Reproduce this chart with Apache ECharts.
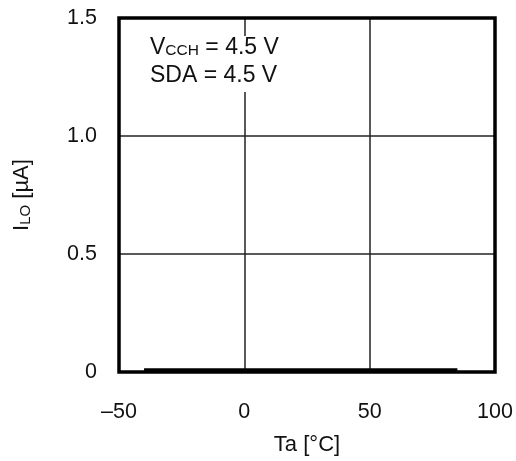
<!DOCTYPE html>
<html>
<head>
<meta charset="utf-8">
<script src="https://cdn.jsdelivr.net/npm/echarts@6/dist/echarts.min.js"></script>
<style>
  html, body { margin: 0; padding: 0; background: #fff; }
  #chart { width: 516px; height: 461px; }
</style>
</head>
<body>
<div id="chart"></div>
<script>
// 温度
const temps = [-40, 85]
// ILO [uA]
const leakCurrent = [0.01, 0.01]
const xTicks = [-50, 0, 50, 100]
const yTicks = [0, 0.5, 1.0, 1.5]

const font = "'Liberation Sans', Arial, sans-serif"
const chart = echarts.init(document.getElementById('chart'))

const option = {
  animation: false,
  grid: {
    left: 119,
    right: 21,
    top: 18,
    bottom: 89,
    show: true,
    borderColor: '#000',
    borderWidth: 3.5,
    z: 5
  },
  // 条件
  title: {
    text: '{b|V}{s|CCH}{b| = 4.5 V}\n{b|SDA = 4.5 V}',
    left: 146,
    top: 31,
    padding: [0, 4, 5, 4],
    backgroundColor: '#fff',
    textStyle: {
      fontWeight: 'normal',
      rich: {
        b: { fontFamily: font, fontSize: 23, fontWeight: 'normal', color: '#111', lineHeight: 28, verticalAlign: 'bottom' },
        s: { fontFamily: font, fontSize: 15.5, fontWeight: 'normal', color: '#111', lineHeight: 28, verticalAlign: 'bottom' }
      }
    }
  },
  xAxis: {
    type: 'value',
    min: -50,
    max: 100,
    interval: 50,
    name: 'Ta [°C]',
    nameLocation: 'middle',
    nameGap: 62,
    nameTextStyle: { fontFamily: font, fontSize: 22, color: '#111' },
    axisLine: { show: false },
    axisTick: { show: false },
    axisLabel: {
      margin: 29,
      fontFamily: font,
      fontSize: 21.5,
      color: '#111',
      formatter: v => (xTicks.includes(v) ? (v < 0 ? '\u2013' + Math.abs(v) : String(v)) : '')
    },
    splitLine: { lineStyle: { color: '#222', width: 1.5 } }
  },
  yAxis: {
    type: 'value',
    min: 0,
    max: 1.5,
    interval: 0.5,
    name: '{b|I}{s|LO}{b| [µA]}',
    nameLocation: 'middle',
    nameGap: 86,
    nameTextStyle: {
      rich: {
        b: { fontFamily: font, fontSize: 22, color: '#111', lineHeight: 26, verticalAlign: 'bottom' },
        s: { fontFamily: font, fontSize: 15, color: '#111', lineHeight: 26, verticalAlign: 'bottom' }
      }
    },
    axisLine: { show: false },
    axisTick: { show: false },
    axisLabel: {
      margin: 22,
      fontFamily: font,
      fontSize: 21.5,
      color: '#111',
      formatter: v => {
        if (!yTicks.includes(v)) return ''
        return v === 0 ? '0' : v.toFixed(1)
      }
    },
    splitLine: { lineStyle: { color: '#222', width: 1.5 } }
  },
  series: [
    {
      type: 'line',
      data: temps.map((t, i) => [t, leakCurrent[i]]),
      symbol: 'none',
      lineStyle: { color: '#000', width: 3 },
      z: 6
    }
  ]
}
chart.setOption(option)
window.addEventListener('resize', () => chart.resize())
</script>
</body>
</html>
